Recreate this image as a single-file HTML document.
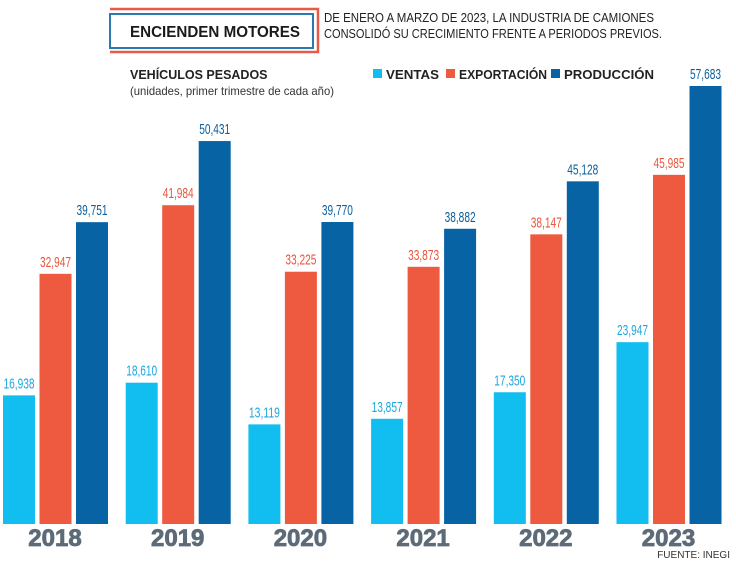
<!DOCTYPE html>
<html><head><meta charset="utf-8"><style>
body{margin:0;background:#fff;width:736px;height:564px;overflow:hidden;font-family:"Liberation Sans",sans-serif}
</style></head><body>
<svg width="736" height="564" id="svg">
<g>
<polyline points="110,9 318,9 318,52 110,52" fill="none" stroke="#e85a45" stroke-width="2.5"/>
<rect x="110" y="14" width="203" height="34" fill="none" stroke="#2a7ab0" stroke-width="2"/>
</g>
<text x="215" y="37" text-anchor="middle" font-size="16" font-weight="bold" fill="#1a1a1a" textLength="170" lengthAdjust="spacingAndGlyphs">ENCIENDEN MOTORES</text>
<text x="324" y="22" font-size="13" fill="#222" textLength="330" lengthAdjust="spacingAndGlyphs">DE ENERO A MARZO DE 2023, LA INDUSTRIA DE CAMIONES</text>
<text x="324" y="38" font-size="13" fill="#222" textLength="338" lengthAdjust="spacingAndGlyphs">CONSOLIDÓ SU CRECIMIENTO FRENTE A PERIODOS PREVIOS.</text>
<text x="130" y="79" font-size="12.5" font-weight="bold" fill="#222">VEHÍCULOS PESADOS</text>
<text x="130" y="95" font-size="12" fill="#333" textLength="204" lengthAdjust="spacingAndGlyphs">(unidades, primer trimestre de cada año)</text>
<g id="legend"></g>
<g id="bars"></g>
<text x="730" y="558" text-anchor="end" font-size="10" fill="#333">FUENTE: INEGI</text>
</svg>
<script>
const years=["2018","2019","2020","2021","2022","2023"];
const ventas=[16938,18610,13119,13857,17350,23947];
const exportacion=[32947,41984,33225,33873,38147,45985];
const produccion=[39751,50431,39770,38882,45128,57683];
const seriesNames=["VENTAS","EXPORTACIÓN","PRODUCCIÓN"];
const colors=["#12bdf0","#ee5a3f","#0763a3"];
const labelColors=["#1fa7dd","#e8563c","#0b5f9c"];
const NS="http://www.w3.org/2000/svg";
const base=524,scale=438/57683;
const y=v=>base-v*scale;
const gx=i=>3+i*122.7;
const bw=32,step=36.5;
const g=document.getElementById('bars');
function mk(t,a,p){const e=document.createElementNS(NS,t);for(const k in a)e.setAttribute(k,a[k]);p.appendChild(e);return e;}
const all=[ventas,exportacion,produccion];
years.forEach((yr,i)=>{
 all.forEach((s,j)=>{
  const x=gx(i)+j*step;
  const r=mk('rect',{x:x,y:y(s[i]),width:bw,height:base-y(s[i]),fill:colors[j]},g);
  
  
  const t=mk('text',{x:x+bw/2,y:y(s[i])-7,'text-anchor':'middle','font-size':'15',fill:labelColors[j],textLength:'31',lengthAdjust:'spacingAndGlyphs'},g);
  t.textContent=s[i].toLocaleString('en-US');
  
  
 });
 const t=mk('text',{x:gx(i)+52,y:546,'text-anchor':'middle','font-size':'24','font-weight':'bold',fill:'#5d6b78',stroke:'#5d6b78','stroke-width':'0.8'},g);
 t.textContent=yr;
 
 
});
const lg=document.getElementById('legend');
const lx=[373,446,551];
const lw=[53,88,90];
seriesNames.forEach((n,j)=>{
 const r=mk('rect',{x:lx[j],y:69,width:9,height:9,fill:colors[j]},lg);
 
 
 const t=mk('text',{x:lx[j]+13,y:79,'font-size':'12.5','font-weight':'bold',fill:'#222',textLength:lw[j],lengthAdjust:'spacingAndGlyphs'},lg);
 t.textContent=n;
 
 
});
</script>
</body></html>
